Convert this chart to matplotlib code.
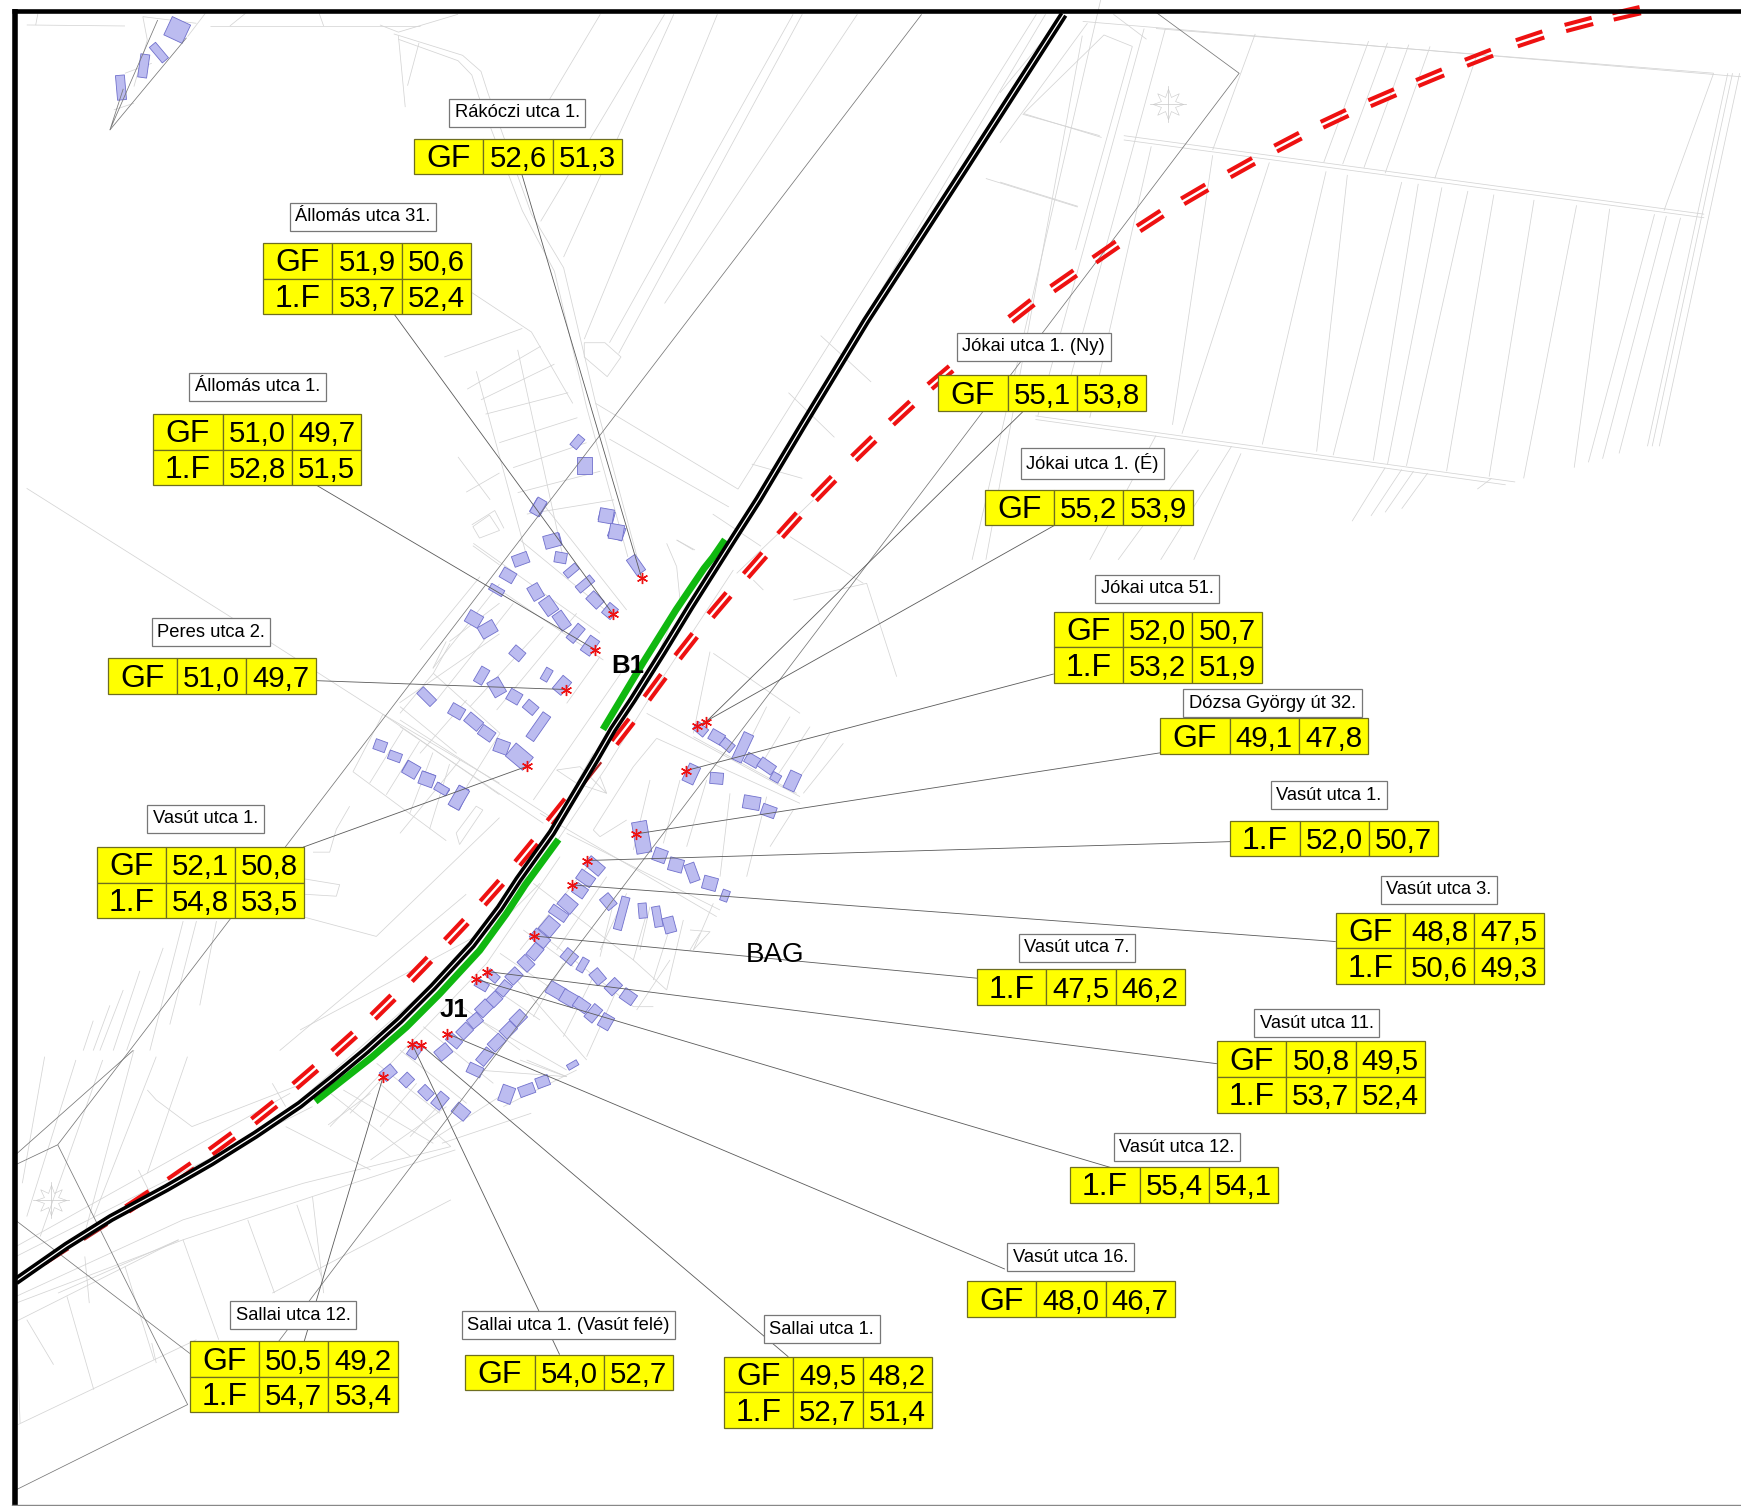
import numpy as np
import matplotlib
matplotlib.use("Agg")
import matplotlib.pyplot as plt
from matplotlib.patches import Rectangle, Polygon
from matplotlib.collections import LineCollection, PatchCollection

plt.rcParams['font.family'] = ['Liberation Sans', 'DejaVu Sans']
W, H = 1741, 1506
S = 1741 / 1568.0

# ---- measurement tables
site_names = ["Rákóczi utca 1.", "Állomás utca 31.", "Állomás utca 1.", "Peres utca 2.", "Vasút utca 1.",
              "Jókai utca 1. (Ny)", "Jókai utca 1. (É)", "Jókai utca 51.", "Dózsa György út 32.", "Vasút utca 1.",
              "Vasút utca 3.", "Vasút utca 7.", "Vasút utca 11.", "Vasút utca 12.", "Vasút utca 16.",
              "Sallai utca 12.", "Sallai utca 1. (Vasút felé)", "Sallai utca 1."]
site_rows = [[("GF", "52,6", "51,3")],
             [("GF", "51,9", "50,6"), ("1.F", "53,7", "52,4")],
             [("GF", "51,0", "49,7"), ("1.F", "52,8", "51,5")],
             [("GF", "51,0", "49,7")],
             [("GF", "52,1", "50,8"), ("1.F", "54,8", "53,5")],
             [("GF", "55,1", "53,8")],
             [("GF", "55,2", "53,9")],
             [("GF", "52,0", "50,7"), ("1.F", "53,2", "51,9")],
             [("GF", "49,1", "47,8")],
             [("1.F", "52,0", "50,7")],
             [("GF", "48,8", "47,5"), ("1.F", "50,6", "49,3")],
             [("1.F", "47,5", "46,2")],
             [("GF", "50,8", "49,5"), ("1.F", "53,7", "52,4")],
             [("1.F", "55,4", "54,1")],
             [("GF", "48,0", "46,7")],
             [("GF", "50,5", "49,2"), ("1.F", "54,7", "53,4")],
             [("GF", "54,0", "52,7")],
             [("GF", "49,5", "48,2"), ("1.F", "52,7", "51,4")]]
label_xy = [(466, 100), (327, 194), (232, 347), (190, 568), (185, 736), (931, 311), (984, 416), (1042, 529),
            (1146, 632), (1197, 715), (1296, 800), (970, 852), (1186, 920), (1060, 1032), (964, 1131),
            (264, 1183), (512, 1192), (740, 1196)]
table_xy = [(373, 125), (237, 219), (138, 373), (97, 593), (87, 763), (845, 338), (887, 441), (949, 551),
            (1045, 647), (1108, 739), (1203, 822), (880, 873), (1096, 938), (964, 1051), (871, 1154),
            (171, 1208), (419, 1220), (652, 1222)]
leaders = [((470, 157), (578, 521)), ((355, 283), (552, 553)), ((285, 437), (536, 585)), ((284, 613), (510, 621)),
           ((273, 763), (475, 690)), ((921, 371), (636, 650)), ((950, 473), (628, 654)), ((949, 607), (618, 694)),
           ((1045, 678), (573, 751)), ((1108, 758), (529, 775)), ((1203, 848), (515, 797)), ((880, 881), (481, 843)),
           ((1096, 958), (439, 875)), ((1002, 1052), (429, 882)), ((905, 1143), (403, 931)),
           ((274, 1208), (345, 970)), ((504, 1220), (371, 940)), ((710, 1222), (379, 941))]

# ---- line work, display coordinates
rail = [(14, 1154), (60, 1122), (100, 1097), (150, 1070), (190, 1047), (230, 1022), (270, 995), (300, 971), (330, 946),
        (360, 919), (390, 889), (425, 851), (450, 818), (467, 792), (497, 750), (537, 683), (552, 657), (570, 630),
        (597, 587), (622, 546), (660, 486), (683, 450), (723, 383), (780, 289), (870, 150), (958, 13)]
barrier_j1 = [(284, 992), (335, 952), (366, 925), (396, 895), (432, 856), (456, 823), (473, 797), (503, 756)]
barrier_b1 = [(543, 657), (579, 597), (609, 549), (634, 512), (642, 502), (653, 486)]
dash_centres = [(1465, 12), (1422, 22), (1378, 35), (1332, 52), (1288, 70), (1245, 88), (1202, 107), (1160, 128),
                (1118, 151), (1076, 175), (1036, 199), (996, 227), (958, 253), (920, 280), (847, 340), (812, 372),
                (778, 404), (742, 440), (711, 473), (680, 509), (648, 545), (618, 582), (590, 619), (561, 659),
                (503, 731), (474, 768), (443, 804), (411, 839), (378, 873), (345, 907), (310, 940), (275, 970),
                (238, 1002), (200, 1030), (163, 1057), (125, 1082)]
faint_dash_centres = [(532, 695), (85, 1108), (50, 1130)]
dark_lines = [[(1041, 11), (1116, 66), (251, 1208)], [(830, 13), (52, 1031), (169, 1265), (14, 1342)],
              [(52, 1031), (14, 1049)], [(14, 1099), (171, 1219)], [(120, 946), (14, 1040)],
              [(142, 18), (99, 117), (111, 80)], [(99, 117), (168, 34)]]

# gray map lines in coordinates of the zoomed crops: (x0, y0, sx, sy, polylines)
Z4 = (1000, 0, .4726, .357, [
    [(175, 60), (1568, 215)], [(330, 80), (1510, 205)], [(262, 380), (1490, 600)], [(262, 392), (1490, 610)],
    [(75, 1165), (1090, 1350)], [(75, 1175), (1070, 1358)],
    [(540, 95), (450, 420)], [(780, 115), (685, 455)], [(820, 120), (725, 460)], [(865, 125), (770, 470)],
    [(910, 130), (815, 485)], [(1010, 150), (920, 500)], [(1510, 205), (1405, 590)],
    [(1540, 205), (1370, 1250)], [(1550, 205), (1380, 1250)], [(1565, 205), (1395, 1250)],
    [(320, 410), (190, 1170)], [(450, 435), (365, 1190)], [(570, 455), (385, 1215)], [(690, 480), (555, 1245)],
    [(735, 490), (670, 1265)], [(850, 510), (705, 1275)], [(885, 515), (790, 1290)], [(935, 525), (820, 1300)],
    [(990, 535), (860, 1305)], [(1045, 545), (945, 1320)], [(1130, 560), (1035, 1335)], [(1220, 575), (1108, 1340)],
    [(1290, 585), (1215, 1310)], [(1385, 600), (1245, 1295)], [(1410, 605), (1275, 1285)], [(1440, 610), (1310, 1270)],
    [(815, 1310), (745, 1460)], [(850, 1315), (785, 1445)], [(875, 1320), (815, 1435)], [(905, 1325), (850, 1425)],
    [(1040, 1340), (1010, 1370)],
    [(350, 80), (130, 1150)], [(305, 80), (80, 1165)], [(280, 130), (160, 700)], [(510, 1270), (410, 1568)],
    [(420, 1260), (250, 1568)], [(490, 1250), (340, 1568)], [(330, 1220), (190, 1568)],
    [(50, 318), (215, 385)], [(0, 510), (165, 578)], [(50, 318), (220, 98), (280, 130)],
    [(185, 65), (0, 400)], [(130, 50), (0, 260)], [(240, 40), (310, 110)]])
Z6 = (380, 0, .459, .357, [
    [(480, 40), (350, 320)], [(620, 40), (350, 620)], [(640, 40), (400, 720)], [(735, 40), (445, 950)],
    [(900, 40), (500, 960)], [(920, 40), (520, 990)], [(1040, 40), (620, 850)], [(1430, 40), (780, 1370)],
    [(1450, 40), (820, 1400)], [(1480, 40), (1010, 1000)],
    [(30, 95), (180, 155), (220, 200), (235, 260), (330, 600), (400, 750), (470, 1130), (560, 1560)],
    [(40, 110), (170, 170), (200, 210), (215, 270), (310, 590), (380, 760), (450, 1140), (540, 1560)],
    [(0, 70), (40, 90), (170, 40)], [(40, 100), (55, 300)], [(85, 120), (60, 240)],
    [(470, 1130), (780, 1370)], [(500, 1230), (760, 1420)], [(1400, 320), (1568, 380)], [(1320, 500), (1520, 580)],
    [(445, 960), (490, 960), (525, 1000), (495, 1055), (445, 1000), (445, 960)],
    [(130, 760), (330, 930), (420, 1130)], [(140, 1000), (310, 920)], [(190, 1090), (350, 970)],
    [(220, 1120), (380, 1020)], [(230, 1160), (410, 1100)], [(260, 1240), (430, 1170)], [(290, 1310), (450, 1240)],
    [(300, 1380), (480, 1320)], [(320, 1440), (510, 1400)], [(210, 1040), (320, 1560)], [(300, 980), (400, 1568)],
    [(170, 1280), (240, 1400)], [(200, 1470), (250, 1430), (270, 1480)], [(810, 1300), (920, 1340)],
    [(960, 940), (1070, 1070)], [(890, 1100), (990, 1225)], [(725, 1440), (830, 1530)],
    [(1570, 0), (1290, 1568)], [(1530, 100), (1320, 1568)]])
Z5 = (0, 1050, .4464, .333, [
    [(36, 740), (410, 510), (680, 400), (1010, 290)], [(36, 760), (410, 570), (700, 440), (1020, 300)],
    [(36, 815), (400, 570)], [(130, 730), (400, 570)], [(610, 730), (1010, 450)], [(410, 570), (490, 870)],
    [(555, 510), (615, 730)], [(665, 465), (720, 680)], [(700, 440), (725, 730)], [(150, 740), (210, 1020)],
    [(60, 810), (120, 945)], [(40, 1125), (440, 870)], [(36, 620), (700, 170)], [(36, 590), (650, 130)],
    [(100, 20), (50, 400)], [(170, 30), (60, 500)], [(230, 30), (90, 560)], [(300, 0), (190, 550)],
    [(350, 20), (210, 500)], [(420, 20), (330, 370)], [(430, 230), (350, 150), (330, 120)], [(430, 230), (680, 100)],
    [(640, 230), (830, 360)], [(740, 130), (920, 320)], [(850, 100), (1010, 290)], [(735, 225), (830, 130)],
    [(1000, 170), (830, 330)], [(1190, 190), (990, 280)], [(610, 100), (640, 170)], [(310, 360), (340, 440)],
    [(45, 1120), (36, 800)], [(340, 880), (350, 940)], [(280, 650), (345, 930)], [(190, 620), (200, 760)]])
Z7 = (0, 450, .333, .383, [
    [(80, 100), (700, 440), (1150, 690), (1500, 900)], [(1060, 840), (1150, 690)], [(1060, 840), (1340, 1020)],
    [(1110, 870), (1210, 730)], [(1160, 900), (1260, 760)], [(1230, 950), (1300, 790)], [(1290, 990), (1350, 820)],
    [(1150, 690), (1500, 870)], [(1380, 1030), (1450, 940)], [(1380, 1030), (1370, 1000), (1430, 930), (1450, 940)],
    [(915, 1120), (1020, 1135), (1010, 1165), (915, 1160)], [(915, 1220), (1130, 1270), (1500, 960)],
    [(940, 1050), (990, 1050), (1010, 990), (1050, 930)], [(840, 1568), (1400, 1160)],
    [(550, 1230), (450, 1568)], [(590, 1230), (510, 1500)], [(650, 1230), (600, 1450)], [(490, 1300), (380, 1568)],
    [(420, 1360), (340, 1568)], [(370, 1410), (300, 1568)], [(330, 1450), (280, 1568)], [(280, 1490), (250, 1568)],
    [(1350, 500), (1500, 400)], [(1300, 570), (1500, 350)], [(1200, 660), (1500, 480)], [(1340, 500), (1300, 570)],
    [(1420, 200), (1470, 170), (1500, 210), (1440, 230), (1420, 200)], [(1400, 110), (1500, 60)], [(1420, 250), (1500, 300)]])
Z2 = (0, 0, .4464, .333, [
    [(60, 75), (280, 78)], [(470, 78), (940, 78)], [(320, 50), (440, 70)], [(280, 220), (340, 190)],
    [(320, 50), (330, 120), (300, 260)], [(460, 40), (420, 110)], [(715, 40), (725, 78)], [(550, 40), (515, 78)],
    [(85, 40), (80, 75)], [(255, 330), (300, 310)]])
Z1 = (400, 500, 1 / 3, 1 / 3, [
    [(0, 660), (450, 950)], [(0, 680), (430, 970)], [(420, 940), (950, 1250)], [(500, 1000), (960, 1230)],
    [(740, 640), (1200, 890)], [(880, 710), (1190, 880)], [(150, 430), (100, 520), (300, 700)], [(270, 250), (610, 480)],
    [(220, 130), (600, 400)], [(360, 120), (640, 350)], [(420, 0), (680, 330)], [(600, 470), (500, 610)],
    [(530, 340), (290, 630)], [(430, 380), (210, 620)], [(340, 310), (110, 600)], [(240, 230), (60, 450)],
    [(0, 620), (170, 760)], [(100, 520), (0, 640)], [(200, 600), (60, 760)], [(300, 700), (200, 860)],
    [(940, 460), (1200, 640)], [(930, 455), (880, 700)], [(1330, 730), (1210, 880)], [(1290, 700), (1180, 860)],
    [(1230, 680), (1130, 830)], [(1170, 650), (1080, 800)], [(1100, 620), (1030, 760)],
    [(1000, 210), (770, 560), (620, 800), (420, 1100)], [(1240, 0), (1010, 220)], [(690, 480), (400, 900)],
    [(830, 200), (840, 300), (760, 500)], [(800, 130), (830, 200)], [(830, 120), (880, 150)],
    [(470, 810), (540, 800), (620, 880), (530, 850), (470, 810)], [(580, 760), (530, 850)], [(600, 830), (620, 880)],
    [(990, 880), (960, 1130)], [(920, 840), (860, 1040)], [(840, 840), (790, 1030)], [(750, 840), (700, 1050)],
    [(1100, 890), (1040, 1130)], [(1180, 930), (1110, 1040)], [(770, 715), (700, 800), (580, 990), (600, 1010), (680, 960)],
    [(770, 715), (1200, 910)], [(1180, 300), (1400, 250), (1490, 530)], [(1170, 110), (1390, 250)], [(830, 120), (885, 150)],
    [(1060, 240), (1090, 270)], [(570, 1090), (360, 1350)], [(620, 1130), (470, 1350)], [(680, 1180), (600, 1350)],
    [(750, 1220), (720, 1350)], [(900, 1300), (870, 1350)], [(940, 1210), (880, 1350)], [(0, 1000), (180, 780)]])
Z3 = (300, 850, 1 / 3, 1 / 3, [
    [(700, 100), (1000, 330), (1100, 420)], [(720, 250), (1000, 470), (1060, 470)], [(1150, 210), (1100, 420)],
    [(650, 390), (860, 630)], [(540, 510), (800, 660)], [(530, 660), (800, 680), (680, 630)], [(610, 770), (830, 660)],
    [(380, 880), (630, 720)], [(130, 720), (400, 880)], [(780, 20), (560, 340), (90, 830)], [(680, 80), (470, 340), (0, 750)],
    [(1170, 240), (1230, 245), (1180, 300)], [(1010, 480), (1110, 330)], [(950, 420), (860, 620)], [(880, 380), (790, 560)],
    [(790, 340), (700, 500)], [(1040, 190), (1000, 330)], [(940, 160), (900, 320)], [(1120, 200), (1060, 390)],
    [(230, 640), (420, 790)], [(300, 600), (500, 760)], [(370, 530), (580, 700)], [(460, 450), (660, 600)],
    [(530, 380), (720, 510)], [(600, 310), (790, 440)], [(670, 240), (820, 350)], [(720, 100), (600, 220), (0, 540)],
    [(150, 790), (280, 650)], [(240, 830), (350, 700)], [(330, 860), (440, 740)], [(660, 630), (800, 680)]])
map_groups = [Z4, Z6, Z5, Z7, Z2, Z1, Z3]

# buildings: centre x, centre y, length, width, angle, in crop coordinates
buildings_z1 = [(415, 22, 30, 40, 30), (620, 48, 40, 30, 15), (650, 97, 40, 35, 20), (460, 122, 40, 30, -15),
    (482, 173, 32, 28, 10), (514, 212, 40, 20, -40), (555, 252, 50, 22, -40), (585, 300, 40, 30, 45), (630, 333, 35, 30, -50),
    (362, 178, 42, 30, -20), (324, 226, 38, 30, 30), (290, 270, 40, 18, 30), (407, 276, 40, 32, 60), (446, 318, 45, 35, 55),
    (485, 362, 48, 30, 55), (527, 400, 50, 25, -50), (570, 437, 48, 30, -55), (222, 357, 40, 35, 30), (263, 388, 45, 35, -30),
    (352, 460, 35, 30, 40), (440, 524, 35, 20, -60), (245, 527, 45, 25, -60), (486, 556, 45, 30, -50), (290, 562, 45, 35, 60),
    (343, 590, 35, 32, 30), (392, 622, 35, 28, 40), (80, 590, 50, 25, 45), (170, 634, 38, 32, 30), (221, 665, 45, 30, 40),
    (260, 700, 40, 30, 35), (305, 740, 38, 35, 20), (358, 770, 60, 45, 40), (415, 680, 80, 25, -55), (33, 808, 38, 32, 30),
    (82, 837, 35, 32, 20), (127, 867, 35, 18, 35), (178, 893, 60, 28, -65), (902, 688, 35, 25, 40), (950, 711, 38, 30, 30),
    (982, 735, 35, 25, 40), (1028, 742, 80, 28, -65), (1057, 781, 38, 28, 30), (1100, 798, 45, 28, 35), (1127, 832, 25, 22, 30),
    (1177, 843, 50, 32, -65), (874, 822, 50, 32, -65), (950, 835, 35, 30, 5), (1055, 908, 45, 35, 10), (1106, 933, 38, 30, 20),
    (725, 1012, 85, 40, 80), (780, 1066, 35, 35, 20), (828, 1095, 38, 35, 15), (876, 1118, 50, 28, 70), (930, 1150, 38, 35, 15),
    (975, 1187, 30, 20, -70), (584, 1098, 50, 30, 40), (557, 1135, 45, 30, 35), (540, 1172, 35, 30, 35), (503, 1212, 45, 35, 40),
    (476, 1240, 50, 25, 35), (448, 1280, 45, 40, -50), (420, 1315, 50, 30, 40), (625, 1205, 38, 30, 50), (665, 1240, 90, 22, -75),
    (728, 1232, 40, 22, 85), (772, 1250, 55, 22, 80), (808, 1275, 42, 30, 75), (708, 195, 50, 28, 55)]
buildings_z3 = [(705, 305, 40, 30, -50), (678, 340, 38, 30, 45), (642, 378, 38, 32, -45), (612, 415, 38, 28, -50),
    (583, 448, 35, 30, -45), (552, 475, 40, 32, -45), (525, 512, 35, 30, -40), (494, 543, 38, 30, -45), (462, 572, 40, 25, 40),
    (430, 606, 40, 32, -40), (578, 378, 35, 22, 40), (545, 405, 35, 22, 30), (345, 602, 40, 28, -55), (265, 668, 38, 30, -40),
    (320, 690, 32, 28, -45), (378, 728, 35, 28, 45), (420, 752, 42, 30, -50), (483, 785, 42, 32, 40), (808, 320, 38, 32, 40),
    (848, 345, 38, 20, -60), (893, 380, 38, 30, 50), (940, 410, 40, 30, -45), (985, 440, 38, 32, 35), (768, 422, 48, 35, 30),
    (806, 445, 42, 35, 30), (845, 465, 40, 30, 35), (880, 490, 45, 28, -50), (918, 515, 38, 32, -60), (655, 505, 40, 30, -45),
    (625, 540, 40, 30, -45), (590, 578, 42, 30, -45), (555, 620, 45, 28, -50), (525, 660, 40, 28, 25), (620, 733, 45, 35, -70),
    (680, 720, 42, 28, -20), (728, 695, 35, 28, -20), (818, 645, 30, 15, -30)]
buildings_z2 = [(397, 90, 45, 45, 25), (356, 158, 45, 18, 50), (322, 198, 52, 20, -82), (271, 263, 55, 20, 85)]
buildings_z7 = [(1142, 772, 30, 26, 20), (1186, 800, 32, 22, 20), (1235, 835, 36, 34, 30), (1282, 860, 36, 32, 20),
                (1326, 885, 34, 20, 30), (1378, 908, 55, 30, -60)]
buildings_z6 = [(445, 1303, 32, 36, 0), (430, 1238, 28, 18, -50), (345, 1420, 36, 22, -60), (375, 1515, 34, 28, -15),
                (493, 1445, 30, 30, 10), (515, 1490, 30, 32, 10)]
compass_z = [(1000, 0, .4726, .357, 355, 290), (0, 1050, .4464, .333, 115, 450)]
label_points = [("B1", 565, 600, 'bold', 18.5), ("J1", 409, 910, 'bold', 18.5), ("BAG", 698, 860, 'normal', 20)]


def crop(x0, y0, sx, sy, pts):
    return [(x0 + px * sx, y0 + py * sy) for px, py in pts]


def disp(pts):
    return [(px * S, py * S) for px, py in pts]


def rect(cx, cy, l, w, ang):
    a = np.radians(ang)
    u = np.array([np.cos(a), np.sin(a)]) * l / 2 * 1.12
    v = np.array([-np.sin(a), np.cos(a)]) * w / 2 * 1.12
    c = np.array([cx, cy])
    return [c + u + v, c + u - v, c - u - v, c - u + v]


fig = plt.figure(figsize=(W / 100, H / 100), dpi=100)
ax = fig.add_axes([0, 0, 1, 1])
ax.set_xlim(0, W)
ax.set_ylim(H, 0)
ax.axis('off')

segs = []
for x0, y0, sx, sy, polys in map_groups:
    segs += [crop(x0, y0, sx, sy, p) for p in polys]
ax.add_collection(LineCollection(segs, colors='#d4d4d4', linewidths=0.55, zorder=1))

for x0, y0, sx, sy, cx, cy in compass_z:
    (px, py), = crop(x0, y0, sx, sy, [(cx, cy)])
    ax.plot([px], [py], marker=(8, 1, 0), ms=22, mfc='none', mec='#c8c8c8', mew=0.4, zorder=1)
    ax.plot([px - 18, px + 18], [py, py], color='#c8c8c8', lw=0.5, zorder=1)
    ax.plot([px, px], [py - 18, py + 18], color='#c8c8c8', lw=0.5, zorder=1)

polys = []
for lst, (x0, y0, sx, sy) in ((buildings_z1, (400, 500, 1 / 3, 1 / 3)), (buildings_z3, (300, 850, 1 / 3, 1 / 3))):
    for b in lst:
        (px, py), = crop(x0, y0, sx, sy, [b[:2]])
        polys.append(rect(px, py, b[2] * sx, b[3] * sx, b[4]))
for b in buildings_z2:
    (px, py), = crop(0, 0, .4464, .333, [b[:2]])
    polys.append(rect(px, py, b[2] * .4, b[3] * .4, b[4]))
for b in buildings_z7:
    (px, py), = crop(0, 450, .333, .383, [b[:2]])
    polys.append(rect(px, py, b[2] * .36, b[3] * .36, b[4]))
for b in buildings_z6:
    (px, py), = crop(380, 0, .459, .357, [b[:2]])
    polys.append(rect(px, py, b[2] * .42, b[3] * .42, b[4]))
ax.add_collection(PatchCollection([Polygon(p, closed=True) for p in polys], facecolor='#bcbcf0',
                                  edgecolor='#7070cc', linewidths=0.6, zorder=2))

ax.add_collection(LineCollection([disp(p) for p in dark_lines], colors='#777777', linewidths=0.55, zorder=3))
ax.add_collection(LineCollection([disp(p) for p in leaders], colors='#5a5a5a', linewidths=0.6, zorder=3))

# double red dashed line: direction of each dash follows its neighbours
centres = np.array(disp(dash_centres))
faint = np.array(disp(faint_dash_centres))
d_segs = []
for i, c in enumerate(centres):
    a = centres[max(i - 1, 0)]
    b = centres[min(i + 1, len(centres) - 1)]
    t = (b - a) / np.hypot(*(b - a))
    n = np.array([-t[1], t[0]])
    for off in (-3.2, 3.2):
        d_segs.append([c - t * 14 + n * off, c + t * 14 + n * off])
ax.add_collection(LineCollection(d_segs, colors='#ee1111', linewidths=2.9, zorder=4, capstyle='butt'))
f_segs = []
for c, t in zip(faint, [(.62, -.78), (.84, -.54), (.84, -.54)]):
    t = np.array(t)
    n = np.array([-t[1], t[0]])
    for off in (-2.5, 2.5):
        f_segs.append([c - t * 14 + n * off, c + t * 14 + n * off])
ax.add_collection(LineCollection(f_segs, colors='#b02020', linewidths=1.6, zorder=4))

# railway and noise barriers
for b in (barrier_j1, barrier_b1):
    bx, by = zip(*disp(b))
    ax.plot(bx, by, color='#10b810', lw=5, solid_capstyle='butt', solid_joinstyle='round', zorder=5)
rx, ry = zip(*disp(rail))
ax.plot(rx, ry, color='black', lw=6, solid_joinstyle='round', solid_capstyle='butt', zorder=6)
ax.plot(rx, ry, color='white', lw=0.9, solid_joinstyle='round', zorder=7)

# receiver stars
sx_, sy_ = zip(*disp([l[1] for l in leaders]))
ax.plot(sx_, sy_, ls='none', marker=(6, 2, 0), color='#ee1111', ms=8, mew=1.0, zorder=8)

# tables
cw, rh = 69.3, 35.6
for name, rows, lp, tp in zip(site_names, site_rows, label_xy, table_xy):
    lx, ly = lp[0] * S, lp[1] * S
    ax.text(lx, ly + 1.5, name, ha='center', va='center', fontsize=13.2, color='black', zorder=10,
            bbox=dict(boxstyle='square,pad=0.3', fc='white', ec='#777777', lw=0.9))
    tx, ty = tp[0] * S, tp[1] * S
    for r, row in enumerate(rows):
        for c, txt in enumerate(row):
            ax.add_patch(Rectangle((tx + c * cw, ty + r * rh), cw, rh, fc='#ffff00', ec='#6e6e20', lw=0.9, zorder=9))
            ax.text(tx + c * cw + cw / 2, ty + r * rh + rh / 2 + 2.5, txt, ha='center', va='center',
                    fontsize=21.2 if c else 23, color='black', zorder=10)

for txt, x, y, w, fs in label_points:
    ax.text(x * S, y * S, txt, ha='center', va='center', fontweight=w, fontsize=fs, color='black', zorder=11)

# frame
ax.plot([14.5, 14.5], [9, H], color='black', lw=4, solid_capstyle='butt', zorder=12)
ax.plot([12, W], [11, 11], color='black', lw=3.3, solid_capstyle='butt', zorder=12)
ax.plot([12, W], [H - 1.5, H - 1.5], color='#888888', lw=1.0, zorder=12)

fig.savefig('out.png', dpi=100, facecolor='white')
